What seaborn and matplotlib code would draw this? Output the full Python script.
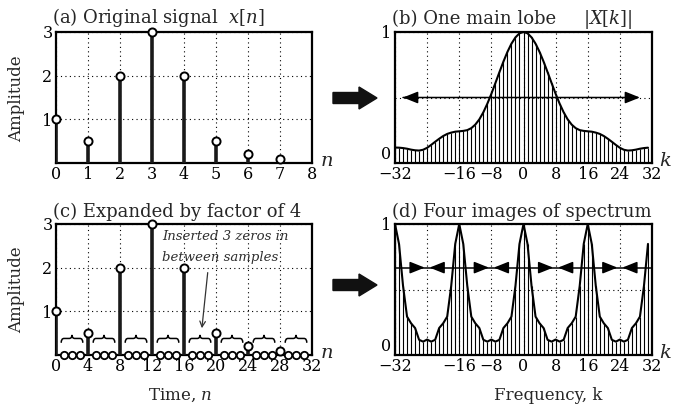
import numpy as np
import pandas as pd
import matplotlib
matplotlib.use("Agg")
import matplotlib.pyplot as plt
import seaborn as sns
from matplotlib.path import Path
from matplotlib.patches import PathPatch, FancyArrow

# ---- data ----
n_orig = [0, 1, 2, 3, 4, 5, 6, 7]
x_orig = [1.0, 0.5, 2.0, 3.0, 2.0, 0.5, 0.2, 0.1]
n_exp = list(range(32))
x_exp = [1.0, 0, 0, 0, 0.5, 0, 0, 0, 2.0, 0, 0, 0, 3.0, 0, 0, 0,
         2.0, 0, 0, 0, 0.5, 0, 0, 0, 0.2, 0, 0, 0, 0.1, 0, 0, 0]
k_vals = list(range(-32, 32))
mag_b = [0.118, 0.117, 0.114, 0.109, 0.102, 0.097, 0.095, 0.101,
         0.116, 0.138, 0.162, 0.185, 0.206, 0.222, 0.232, 0.239,
         0.242, 0.245, 0.251, 0.266, 0.293, 0.333, 0.387, 0.453,
         0.528, 0.610, 0.693, 0.774, 0.848, 0.911, 0.959, 0.990,
         1.000, 0.990, 0.959, 0.911, 0.848, 0.774, 0.693, 0.610,
         0.528, 0.453, 0.387, 0.333, 0.293, 0.266, 0.251, 0.245,
         0.242, 0.239, 0.232, 0.222, 0.206, 0.185, 0.162, 0.138,
         0.116, 0.101, 0.095, 0.097, 0.102, 0.109, 0.114, 0.117]
mag_d = [1.000, 0.848, 0.528, 0.293, 0.242, 0.206, 0.116, 0.102,
         0.118, 0.102, 0.116, 0.206, 0.242, 0.293, 0.528, 0.848,
         1.000, 0.848, 0.528, 0.293, 0.242, 0.206, 0.116, 0.102,
         0.118, 0.102, 0.116, 0.206, 0.242, 0.293, 0.528, 0.848,
         1.000, 0.848, 0.528, 0.293, 0.242, 0.206, 0.116, 0.102,
         0.118, 0.102, 0.116, 0.206, 0.242, 0.293, 0.528, 0.848,
         1.000, 0.848, 0.528, 0.293, 0.242, 0.206, 0.116, 0.102,
         0.118, 0.102, 0.116, 0.206, 0.242, 0.293, 0.528, 0.848]
time_ticks_a = list(range(9))
time_ticks_c = list(range(0, 33, 4))
freq_ticks = list(range(-32, 33, 8))
freq_labels = ['\u221232', '', '\u221216', '\u22128', '0', '8', '16', '24', '32']

sns.set_theme(style="white")
plt.rcParams['font.family'] = ['DejaVu Serif']
plt.rcParams['mathtext.fontset'] = 'dejavuserif'

W, H = 674, 405
fig = plt.figure(figsize=(W / 100, H / 100), dpi=100)


def box(l, r, t, b):
    return [l / W, 1 - b / H, (r - l) / W, (b - t) / H]


def style_ax(ax):
    for s in ax.spines.values():
        s.set_visible(True)
        s.set_linewidth(1.6)
        s.set_color('black')
        s.set_zorder(3)
    ax.tick_params(length=0, labelsize=11.5, pad=2.5, colors='black')
    ax.grid(True, linestyle=(0, (1, 3)), color='black', linewidth=0.8)
    ax.set_facecolor('white')
    ax.set_axisbelow(True)


axa = fig.add_axes(box(56, 312, 32, 163))
axb = fig.add_axes(box(395, 652, 32, 163))
axc = fig.add_axes(box(56, 312, 224, 355))
axd = fig.add_axes(box(395, 652, 224, 355))
for ax in (axa, axb, axc, axd):
    style_ax(ax)

# (a)
axa.vlines(n_orig, 0, x_orig, color='#1a1a1a', lw=2.6, zorder=4)
sns.scatterplot(x=n_orig, y=x_orig, ax=axa, marker='o', s=34, facecolor='white',
                edgecolor='black', linewidth=1.4, zorder=6, clip_on=False)
axa.set_xlim(0, 8)
axa.set_ylim(0, 3)
axa.set_xticks(time_ticks_a)
axa.set_yticks([0, 1, 2, 3])
axa.set_yticklabels(['', '1', '2', '3'])

# (c)
nz = [n for n, v in zip(n_exp, x_exp) if v != 0]
vz = [v for v in x_exp if v != 0]
zz = [n for n, v in zip(n_exp, x_exp) if v == 0]
axc.vlines(nz, 0, vz, color='#1a1a1a', lw=2.6, zorder=4)
sns.scatterplot(x=nz, y=vz, ax=axc, marker='o', s=34, facecolor='white',
                edgecolor='black', linewidth=1.4, zorder=6, clip_on=False)
sns.scatterplot(x=zz, y=[0] * len(zz), ax=axc, marker='o', s=28, facecolor='white',
                edgecolor='black', linewidth=1.3, zorder=6, clip_on=False)
axc.set_xlim(0, 32)
axc.set_ylim(0, 3)
axc.set_xticks(time_ticks_c)
axc.set_yticks([0, 1, 2, 3])
axc.set_yticklabels(['', '1', '2', '3'])


def brace(ax, x0, x1, y0, h):
    c = (x0 + x1) / 2
    m = y0 + h * 0.55
    verts = [(x0, y0), (x0, m), (x0 + 0.35, m),
             (c - 0.35, m), (c, m), (c, y0 + h),
             (c, m), (c + 0.35, m),
             (x1 - 0.35, m), (x1, m), (x1, y0)]
    codes = [Path.MOVETO, Path.CURVE3, Path.CURVE3,
             Path.LINETO, Path.CURVE3, Path.CURVE3,
             Path.CURVE3, Path.CURVE3,
             Path.LINETO, Path.CURVE3, Path.CURVE3]
    ax.add_patch(PathPatch(Path(verts, codes), fill=False, lw=1.1, color='black', zorder=5))


groups = [zz[i:i + 3] for i in range(0, len(zz), 3)]
for g in groups:
    brace(axc, g[0] - 0.35, g[-1] + 0.35, 0.28, 0.18)

axc.text(13.3, 2.72, 'Inserted 3 zeros in', fontsize=9.5, style='italic', color='#2e2e2e', va='center')
axc.text(13.3, 2.24, 'between samples', fontsize=9.5, style='italic', color='#2e2e2e', va='center')
axc.annotate('', xy=(18.2, 0.55), xytext=(19.0, 1.95),
             arrowprops=dict(arrowstyle='->', lw=0.9, color='#333333', mutation_scale=10))

# (b)
ahead = '-|>,head_length=0.75,head_width=0.3'
axb.vlines(k_vals, 0, mag_b, color='black', lw=0.8, zorder=2)
sns.lineplot(x=k_vals, y=mag_b, ax=axb, color='black', lw=1.5, zorder=4)
axb.annotate('', xy=(29, 0.5), xytext=(-30, 0.5),
             arrowprops=dict(arrowstyle=ahead, lw=1.1, color='black', shrinkA=0, shrinkB=0))
axb.annotate('', xy=(-30, 0.5), xytext=(-29, 0.5),
             arrowprops=dict(arrowstyle=ahead, lw=1.1, color='black', shrinkA=0, shrinkB=0))

# (d)
axd.vlines(k_vals, 0, mag_d, color='black', lw=0.8, zorder=2)
sns.lineplot(x=k_vals, y=mag_d, ax=axd, color='black', lw=1.5, zorder=4)
yarr = 0.667
axd.plot([-32, 32], [yarr, yarr], color='black', lw=1.1, zorder=5)
for c in (-24, -8, 8, 24):
    for tip, tail in ((c - 0.6, c - 3.0), (c + 0.6, c + 3.0)):
        axd.annotate('', xy=(tip, yarr), xytext=(tail, yarr),
                     arrowprops=dict(arrowstyle=ahead, lw=1.1, color='black',
                                     shrinkA=0, shrinkB=0))

for ax in (axb, axd):
    ax.set_xlim(-32, 32)
    ax.set_ylim(0, 1)
    ax.set_xticks(freq_ticks)
    ax.set_xticklabels(freq_labels)
    ax.set_yticks([0, 0.5, 1])
    ax.set_yticklabels(['0', '', '1'])
    ax.get_yticklabels()[0].set_va('bottom')

for ax in (axa, axb, axc, axd):
    ax.set_xlabel('')
    ax.set_ylabel('')

# titles
tfs = 13
fig.text(52 / W, 1 - 23 / H, '(a) Original signal  $x[n]$', fontsize=tfs, va='baseline')
fig.text(392 / W, 1 - 24 / H, '(b) One main lobe', fontsize=tfs, va='baseline')
fig.text(583 / W, 1 - 24 / H, '$|X[k]|$', fontsize=tfs, va='baseline')
fig.text(53 / W, 1 - 217 / H, '(c) Expanded by factor of 4', fontsize=tfs, va='baseline')
fig.text(392 / W, 1 - 217 / H, '(d) Four images of spectrum', fontsize=tfs, va='baseline')

# axis labels
fig.text(17 / W, 1 - 99 / H, 'Amplitude', rotation=90, fontsize=12, ha='center', va='center')
fig.text(17 / W, 1 - 290 / H, 'Amplitude', rotation=90, fontsize=12, ha='center', va='center')
fig.text(180 / W, 1 - 395 / H, 'Time, $n$', fontsize=12, ha='center', va='center')
fig.text(548 / W, 1 - 395 / H, 'Frequency, k', fontsize=12, ha='center', va='center')
fig.text(320 / W, 1 - 161 / H, '$n$', fontsize=14, ha='left', va='center')
fig.text(320 / W, 1 - 353 / H, '$n$', fontsize=14, ha='left', va='center')
fig.text(659 / W, 1 - 161 / H, '$k$', fontsize=14, ha='left', va='center')
fig.text(659 / W, 1 - 353 / H, '$k$', fontsize=14, ha='left', va='center')

# big arrows between columns
for yc in (98, 285):
    fig.patches.append(FancyArrow(333 / W, 1 - yc / H, 44 / W, 0, width=11 / H,
                                  head_width=22 / H, head_length=18 / W,
                                  length_includes_head=True, color='#111111',
                                  transform=fig.transFigure, figure=fig))

fig.savefig('out.png', dpi=100)
